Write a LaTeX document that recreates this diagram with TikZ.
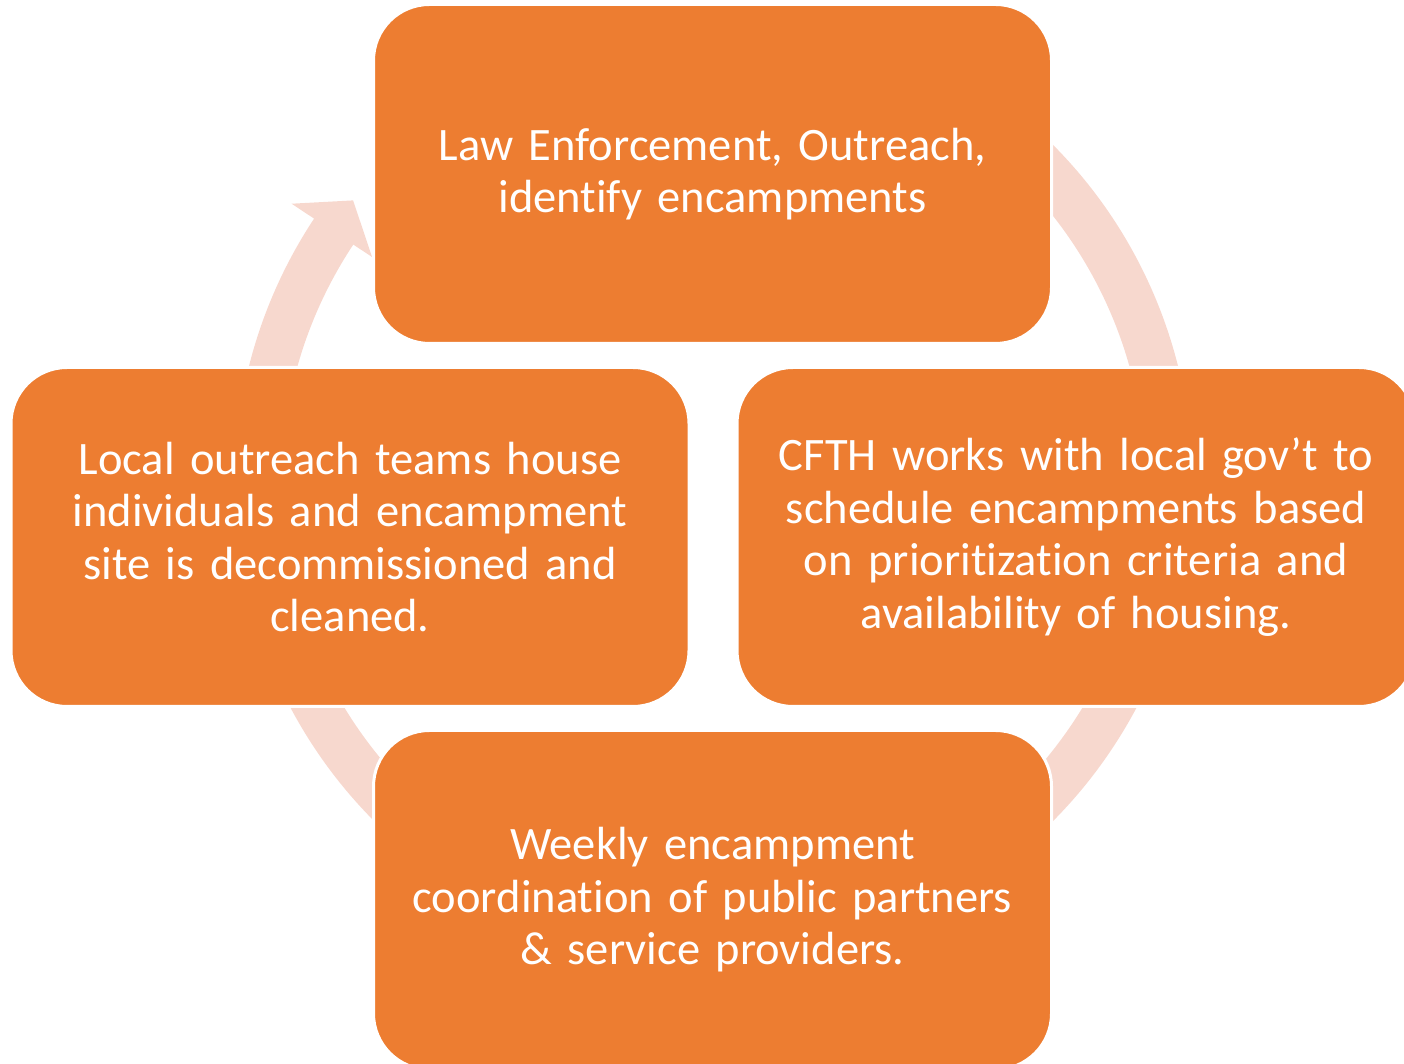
\documentclass[tikz,border=0pt]{standalone}
\usepackage{fontspec}
\setmainfont{Carlito}[RawFeature=-liga]
\definecolor{boxorange}{HTML}{ED7D31}
\definecolor{ringpink}{HTML}{F7D8CE}
\begin{document}
\begin{tikzpicture}[x=1pt,y=1pt,
    stepbox/.style={fill=boxorange,draw=white,line width=3pt,rounded corners=56pt,
      minimum width=678pt,minimum height=339pt,text width=660pt,align=center,
      text=white,font=\fontsize{46.5}{52.5}\selectfont}]
  \useasboundingbox (0,0) rectangle (1404,1064);
  \def\Ro{479}
  \def\Ri{432}
  \begin{scope}[shift={(713.5,581)}]
    \fill[ringpink]
    (60:\Ro) arc[start angle=60, end angle=-213.5, radius=\Ro]
    -- (-213.5:506) -- (-218.1:458) -- (-213.5:409.5) -- (-213.5:\Ri)
    arc[start angle=-213.5, end angle=60, radius=\Ri] -- cycle;
  \end{scope}
  \node[stepbox] (identify) at (712.5,890)
  {Law Enforcement, Outreach,\\identify encampments};
  \node[stepbox] (schedule) at (1076,527)
  {CFTH works with local gov’t to\\schedule encampments based\\on prioritization criteria and\\availability of housing.};
  \node[stepbox] (weekly) at (712.5,164)
  {Weekly encampment\\coordination of public partners\\\& service providers.};
  \node[stepbox] (house) at (350,527)
  {Local outreach teams house\\individuals and encampment\\site is decommissioned and\\cleaned.};
\end{tikzpicture}
\end{document}
